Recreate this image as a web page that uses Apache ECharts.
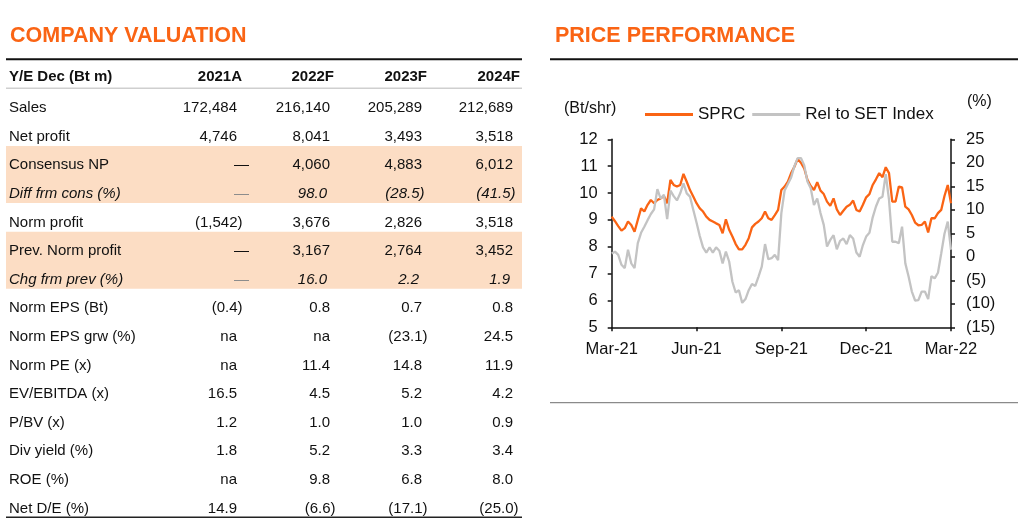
<!DOCTYPE html>
<html>
<head>
<meta charset="utf-8">
<script src="https://cdn.jsdelivr.net/npm/echarts@6/dist/echarts.min.js"></script>
<style>
html,body{margin:0;padding:0;background:#fff;}
#chart{width:1024px;height:519px;}
</style>
</head>
<body>
<div id="chart"></div>
<script>
// ---------- Table data ----------
const tableTitle = 'COMPANY VALUATION';
const chartTitle = 'PRICE PERFORMANCE';
const headerLabel = 'Y/E Dec (Bt m)';
const tableColumns = ['2021A', '2022F', '2023F', '2024F'];
const rowLabels = ['Sales', 'Net profit', 'Consensus NP', 'Diff frm cons (%)', 'Norm profit',
  'Prev. Norm profit', 'Chg frm prev (%)', 'Norm EPS (Bt)', 'Norm EPS grw (%)', 'Norm PE (x)',
  'EV/EBITDA (x)', 'P/BV (x)', 'Div yield (%)', 'ROE (%)', 'Net D/E (%)'];
const rowValues = [
  ['172,484', '216,140', '205,289', '212,689'],
  ['4,746', '8,041', '3,493', '3,518'],
  ['—', '4,060', '4,883', '6,012'],
  ['—', '98.0', '(28.5)', '(41.5)'],
  ['(1,542)', '3,676', '2,826', '3,518'],
  ['—', '3,167', '2,764', '3,452'],
  ['—', '16.0', '2.2', '1.9'],
  ['(0.4)', '0.8', '0.7', '0.8'],
  ['na', 'na', '(23.1)', '24.5'],
  ['na', '11.4', '14.8', '11.9'],
  ['16.5', '4.5', '5.2', '4.2'],
  ['1.2', '1.0', '1.0', '0.9'],
  ['1.8', '5.2', '3.3', '3.4'],
  ['na', '9.8', '6.8', '8.0'],
  ['14.9', '(6.6)', '(17.1)', '(25.0)']
];
const italicRows = [3, 6];
const shadedBands = [[2, 3], [5, 6]];

// ---------- Chart data ----------
const tickLabels = ['Mar-21', 'Jun-21', 'Sep-21', 'Dec-21', 'Mar-22'];
const seriesNames = ['SPRC', 'Rel to SET Index'];
const sprcPrice = [
  9.12, 8.95, 8.77, 8.60, 8.69, 8.94, 8.81, 8.56, 9.00, 9.43,
  9.31, 9.56, 9.74, 9.62, 9.74, 9.80, 9.89, 9.62, 10.49, 10.30,
  10.24, 10.30, 10.71, 10.42, 10.11, 9.87, 9.62, 9.43, 9.31, 9.12,
  9.00, 8.94, 8.87, 8.81, 8.50, 9.02, 8.63, 8.38, 8.10, 7.90,
  7.90, 8.07, 8.32, 8.72, 8.85, 8.94, 9.06, 9.31, 9.06, 9.00,
  9.18, 9.37, 10.11, 10.24, 10.42, 10.74, 10.98, 11.27, 11.13, 10.92,
  10.49, 10.26, 10.11, 10.40, 10.09, 9.96, 9.68, 9.52, 9.80, 9.39,
  9.18, 9.34, 9.49, 9.56, 9.72, 9.37, 9.31, 9.56, 9.84, 9.96,
  10.30, 10.51, 10.74, 10.59, 10.96, 10.74, 9.68, 9.68, 10.24, 10.21,
  9.49, 9.39, 9.18, 8.90, 8.80, 8.81, 8.94, 8.53, 9.06, 9.06,
  9.25, 9.37, 9.89, 10.30, 9.62
];
const relToSET = [
  0.7, 1.1, 0.4, -1.7, -2.4, 1.5, -1.4, -2.4, 2.9, 5.1,
  6.4, 7.8, 9.1, 10.1, 14.4, 12.4, 13.2, 8.0, 14.1, 12.9,
  12.0, 13.5, 15.6, 13.5, 12.8, 10.0, 7.3, 4.4, 2.0, 0.9,
  2.0, 0.9, 2.0, 1.3, -1.4, 1.1, -1.0, -5.3, -7.6, -7.1,
  -9.8, -9.0, -7.1, -5.8, -6.2, -4.2, -2.1, 2.7, -0.5, -0.3,
  0.4, -0.7, 9.3, 14.1, 15.5, 16.9, 19.3, 21.0, 21.0, 19.5,
  16.0, 14.6, 11.0, 12.4, 9.3, 6.8, 2.2, 3.6, 4.6, 1.6,
  3.4, 3.9, 2.7, 4.6, 3.9, 0.9, 0.0, 2.5, 4.3, 5.1,
  8.4, 10.7, 12.4, 12.8, 17.6, 12.1, 3.2, 3.2, 2.9, 6.4,
  -1.4, -4.2, -7.4, -9.3, -9.2, -7.4, -7.4, -9.0, -4.1, -4.6,
  -3.4, 0.7, 4.9, 7.5, 1.5
];
const xCategories = sprcPrice.map((_, i) => (i % 26 === 0 ? tickLabels[i / 26] : ''));

// ---------- Styling ----------
const FONT = "'Liberation Sans', Arial, Helvetica, sans-serif";
const ORANGE = '#FA6414';
const GRAY = '#C3C3C3';
const FS = 15;
const colRight = [237, 330, 422, 513];
const headRight = [242, 334, 427, 520];
const labelX = 9;
const rowBase0 = 113.3;
const rowStep = 28.6;

const graphics = [];
function txt(x, baseline, text, opt) {
  opt = opt || {};
  const fs = opt.fs || FS;
  graphics.push({
    type: 'text',
    silent: true,
    z: 10,
    style: {
      x: x,
      y: baseline - fs * 0.35,
      text: text,
      fill: opt.color || '#111',
      font: (opt.italic ? 'italic ' : '') + (opt.bold ? 'bold ' : '') + fs + 'px ' + FONT,
      align: opt.align || 'left',
      verticalAlign: 'middle'
    }
  });
}
function hline(x1, x2, y, color, w) {
  graphics.push({
    type: 'line', silent: true, z: 5,
    shape: { x1: x1, y1: y, x2: x2, y2: y },
    style: { stroke: color, lineWidth: w }
  });
}
const rowBase = i => rowBase0 + rowStep * i;

// shaded bands
shadedBands.forEach(b => {
  const top = rowBase(b[0]) - 24.5;
  const bottom = rowBase(b[1]) + 3.8;
  graphics.push({
    type: 'rect', silent: true, z: 1,
    shape: { x: 6, y: top, width: 516, height: bottom - top },
    style: { fill: '#FCDDC4' }
  });
});

// titles
txt(10, 43.3, tableTitle, { bold: true, fs: 21.5, color: ORANGE });
txt(555, 43.3, chartTitle, { bold: true, fs: 21.5, color: ORANGE });
hline(6, 522, 59.3, '#111', 2);
hline(550, 1018, 59.3, '#111', 2);
hline(6, 522, 88.3, '#CFCFCF', 1.5);
hline(6, 522, 517.3, '#222', 1.5);
hline(550, 1018, 402.7, '#8A8A8A', 1.2);

// header
txt(labelX, 81.7, headerLabel, { bold: true });
tableColumns.forEach((c, j) => txt(headRight[j], 81.7, c, { bold: true, align: 'right' }));

// rows
rowLabels.forEach((lab, i) => {
  const it = italicRows.indexOf(i) >= 0;
  const b = rowBase(i);
  txt(labelX, b, lab, { italic: it });
  rowValues[i].forEach((v, j) => {
    let x = colRight[j];
    let color = '#111';
    if (v === '—') { x = colRight[j] + 12; if (it) color = '#8C8C8C'; }
    else if (v.charAt(v.length - 1) === ')') x += 5.5;
    if (it && v !== '—') x -= 3;
    txt(x, b, v, { italic: it && v !== '—', align: 'right', color: color });
  });
});

// chart unit labels
txt(564, 114, '(Bt/shr)', { fs: 16 });
txt(967, 107.5, '(%)', { fs: 16 });

const chart = echarts.init(document.getElementById('chart'), null, { renderer: 'canvas' });
const AXFS = 16.5;
const axisLineStyle = { show: true, onZero: false, lineStyle: { color: '#111', width: 1.5 } };
const axisTickStyle = { show: true, length: 4, lineStyle: { color: '#111', width: 1.5 } };
chart.setOption({
  animation: false,
  backgroundColor: '#fff',
  textStyle: { fontFamily: FONT },
  graphic: graphics,
  legend: {
    data: seriesNames,
    left: 645,
    top: 106,
    padding: 0,
    icon: 'rect',
    itemWidth: 48,
    itemHeight: 3,
    itemGap: 7,
    textStyle: { fontSize: 17, color: '#111', fontFamily: FONT }
  },
  grid: { left: 611.7, right: 73, top: 139.3, bottom: 191.7, containLabel: false },
  xAxis: {
    type: 'category',
    data: xCategories,
    boundaryGap: false,
    axisLine: axisLineStyle,
    axisTick: { show: true, interval: 25, length: 4, lineStyle: { color: '#111', width: 1.5 } },
    splitLine: { show: false },
    axisLabel: { interval: 25, margin: 14, color: '#111', fontSize: AXFS, fontFamily: FONT }
  },
  yAxis: [
    {
      type: 'value', min: 5, max: 12, interval: 1, position: 'left',
      axisLine: axisLineStyle, axisTick: axisTickStyle, splitLine: { show: false },
      axisLabel: { margin: 14, color: '#111', fontSize: AXFS, fontFamily: FONT }
    },
    {
      type: 'value', min: -15, max: 25, interval: 5, position: 'right',
      axisLine: axisLineStyle, axisTick: axisTickStyle, splitLine: { show: false },
      axisLabel: {
        margin: 15, color: '#111', fontSize: AXFS, fontFamily: FONT,
        formatter: v => (v < 0 ? '(' + (-v) + ')' : String(v))
      }
    }
  ],
  series: [
    {
      name: seriesNames[0], type: 'line', data: sprcPrice, yAxisIndex: 0,
      symbol: 'none', showSymbol: false, smooth: false,
      lineStyle: { color: ORANGE, width: 2.3 }, itemStyle: { color: ORANGE }, z: 3
    },
    {
      name: seriesNames[1], type: 'line', data: relToSET, yAxisIndex: 1,
      symbol: 'none', showSymbol: false, smooth: false,
      lineStyle: { color: GRAY, width: 2.3 }, itemStyle: { color: GRAY }, z: 4
    }
  ]
});
</script>
</body>
</html>
